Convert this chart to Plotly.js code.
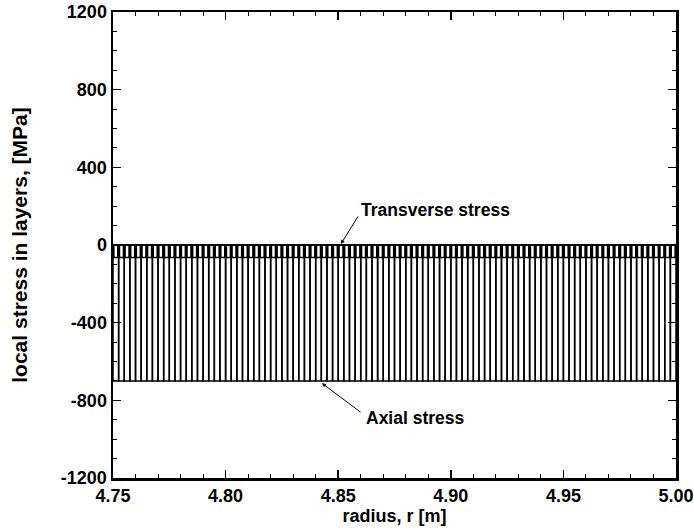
<!DOCTYPE html>
<html>
<head>
<meta charset="utf-8">
<script src="https://cdn.plot.ly/plotly-3.0.1.min.js"></script>
<style>html,body{margin:0;padding:0;background:#fff;}#chart{width:694px;height:528px;}</style>
</head>
<body>
<div id="chart"></div>
<script>
// Layer geometry (radius, m)
const rInner = 4.75;
const layerThickness = 0.0025;
const layerCount = 100;

// Local stress in each layer [MPa]
const axialStress = [
-700,-700,-700,-700,-700,-700,-700,-700,-700,-700,
-700,-700,-700,-700,-700,-700,-700,-700,-700,-700,
-700,-700,-700,-700,-700,-700,-700,-700,-700,-700,
-700,-700,-700,-700,-700,-700,-700,-700,-700,-700,
-700,-700,-700,-700,-700,-700,-700,-700,-700,-700,
-700,-700,-700,-700,-700,-700,-700,-700,-700,-700,
-700,-700,-700,-700,-700,-700,-700,-700,-700,-700,
-700,-700,-700,-700,-700,-700,-700,-700,-700,-700,
-700,-700,-700,-700,-700,-700,-700,-700,-700,-700,
-700,-700,-700,-700,-700,-700,-700,-700,-700,-700];
const transverseStress = [
-65,-65,-65,-65,-65,-65,-65,-65,-65,-65,
-65,-65,-65,-65,-65,-65,-65,-65,-65,-65,
-65,-65,-65,-65,-65,-65,-65,-65,-65,-65,
-65,-65,-65,-65,-65,-65,-65,-65,-65,-65,
-65,-65,-65,-65,-65,-65,-65,-65,-65,-65,
-65,-65,-65,-65,-65,-65,-65,-65,-65,-65,
-65,-65,-65,-65,-65,-65,-65,-65,-65,-65,
-65,-65,-65,-65,-65,-65,-65,-65,-65,-65,
-65,-65,-65,-65,-65,-65,-65,-65,-65,-65,
-65,-65,-65,-65,-65,-65,-65,-65,-65,-65];

const xTickVals = [4.75, 4.80, 4.85, 4.90, 4.95, 5.00];
const xTickText = ["4.75", "4.80", "4.85", "4.90", "4.95", "5.00"];
const yTickVals = [-1200, -800, -400, 0, 400, 800, 1200];
const yTickText = ["-1200", "-800", "-400", "0", "400", "800", "1200"];

const layerCenters = [];
for (let i = 0; i < layerCount; i++) layerCenters.push(rInner + (i + 0.5) * layerThickness);

const fam = "Liberation Sans, Arial, sans-serif";
const bold = (s) => ({family: fam, size: s, color: "#000", weight: "bold"});

const traces = [
  {
    type: "bar", x: layerCenters, y: axialStress, base: 0, width: layerThickness,
    marker: {color: "rgba(255,255,255,0)", line: {color: "#000", width: 1.5}},
    hoverinfo: "skip", showlegend: false
  },
  {
    type: "bar", x: layerCenters, y: transverseStress, base: 0, width: layerThickness * 0.7,
    marker: {color: "rgba(255,255,255,0)", line: {color: "#000", width: 1.5}},
    hoverinfo: "skip", showlegend: false
  }
];

const layout = {
  width: 694, height: 528,
  margin: {l: 113, r: 18, t: 12, b: 50},
  paper_bgcolor: "#fff", plot_bgcolor: "#fff",
  barmode: "overlay", bargap: 0,
  font: {family: fam, size: 18, color: "#000"},
  xaxis: {
    range: [4.75, 5.00], tickmode: "array", tickvals: xTickVals, ticktext: xTickText,
    ticks: "inside", ticklen: 8, tickwidth: 1.5, tickcolor: "#000",
    minor: {dtick: 0.01, tick0: 4.75, ticks: "inside", ticklen: 4, tickcolor: "#000", tickwidth: 1},
    showline: true, linecolor: "#000", linewidth: 2.5, mirror: "ticks",
    showgrid: false, zeroline: false, automargin: false,
    tickfont: bold(18),
    title: {text: "radius, r [m]", font: bold(18), standoff: 3}
  },
  yaxis: {
    range: [-1200, 1200], tickmode: "array", tickvals: yTickVals, ticktext: yTickText,
    ticks: "inside", ticklen: 8, tickwidth: 1.5, tickcolor: "#000",
    minor: {dtick: 100, tick0: 0, ticks: "inside", ticklen: 4, tickcolor: "#000", tickwidth: 1},
    showline: true, linecolor: "#000", linewidth: 2.5, mirror: "ticks",
    showgrid: false, zeroline: false, automargin: false,
    tickfont: bold(18),
    title: {text: "local stress in layers, [MPa]", font: bold(21), standoff: 28}
  },
  annotations: [
    {x: 4.8512, y: 5, ax: 4.8592, ay: 155, xref: "x", yref: "y", axref: "x", ayref: "y",
     showarrow: true, arrowhead: 2, arrowsize: 0.8, arrowwidth: 1, arrowcolor: "#000", text: ""},
    {x: 4.8934, y: 180, xref: "x", yref: "y", showarrow: false, text: "Transverse stress",
     font: bold(17.5)},
    {x: 4.8428, y: -712, ax: 4.8606, ay: -867, xref: "x", yref: "y", axref: "x", ayref: "y",
     showarrow: true, arrowhead: 2, arrowsize: 0.8, arrowwidth: 1, arrowcolor: "#000", text: ""},
    {x: 4.8845, y: -893, xref: "x", yref: "y", showarrow: false, text: "Axial stress",
     font: bold(17.5)}
  ]
};

Plotly.newPlot("chart", traces, layout, {staticPlot: true, displayModeBar: false});
</script>
</body>
</html>
